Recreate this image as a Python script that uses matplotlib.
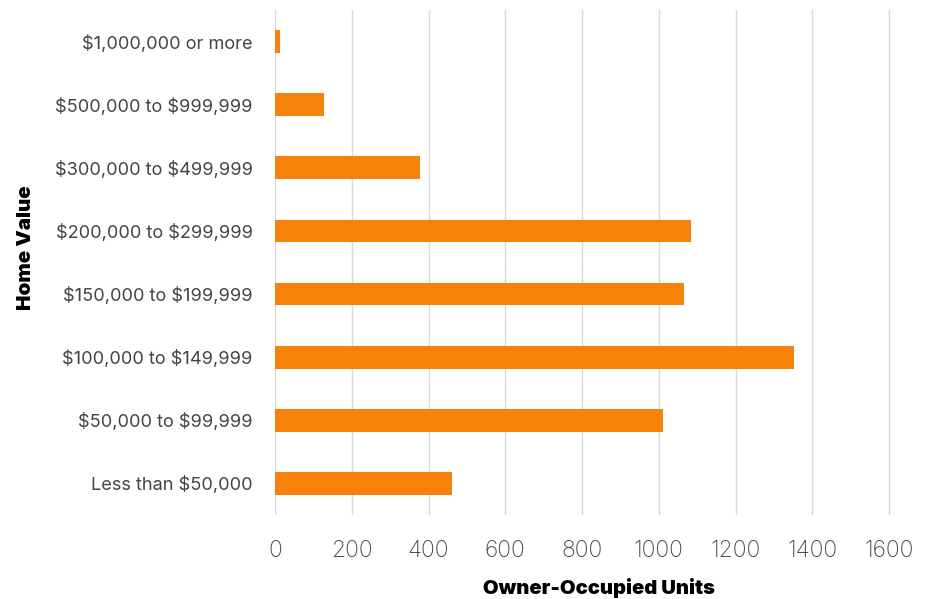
import matplotlib.pyplot as plt

categories = [
    "Less than $50,000",
    "$50,000 to $99,999",
    "$100,000 to $149,999",
    "$150,000 to $199,999",
    "$200,000 to $299,999",
    "$300,000 to $499,999",
    "$500,000 to $999,999",
    "$1,000,000 or more",
]
units = [461, 1010, 1353, 1066, 1085, 378, 128, 14]
x_ticks = [0, 200, 400, 600, 800, 1000, 1200, 1400, 1600]

plt.rcParams["font.family"] = ["Inter", "DejaVu Sans"]
plt.rcParams["text.parse_math"] = False

fig = plt.figure(figsize=(9.32, 5.99), dpi=100)
ax = fig.add_axes([275 / 932, 84 / 599, (891 - 275) / 932, 505 / 599])

ax.barh(range(len(categories)), units, height=0.36, color="#f6820c", zorder=3)

ax.set_xlim(0, 1605)
ax.set_ylim(-0.5, len(categories) - 0.5)
ax.set_xticks(x_ticks)
ax.set_yticks(range(len(categories)))
ax.set_yticklabels(categories)

for s in ax.spines.values():
    s.set_visible(False)
ax.grid(axis="x", color="#d8d8d8", linewidth=1, zorder=0)
ax.tick_params(axis="x", length=0, pad=18, labelsize=16.5, labelcolor="#4a4a4a")
ax.tick_params(axis="y", length=0, pad=16, labelsize=13.1, labelcolor="#444444")
for lbl in ax.get_xticklabels():
    lbl.set_fontweight("light")

ax.set_xlabel("Owner-Occupied Units", fontsize=14.5, fontweight="black")
ax.set_ylabel("Home Value", fontsize=14.8, fontweight="black")
ax.xaxis.set_label_coords(0.526, -0.125)
ax.yaxis.set_label_coords(-0.389, 0.53)

fig.savefig("out.png", dpi=100, facecolor="white")
